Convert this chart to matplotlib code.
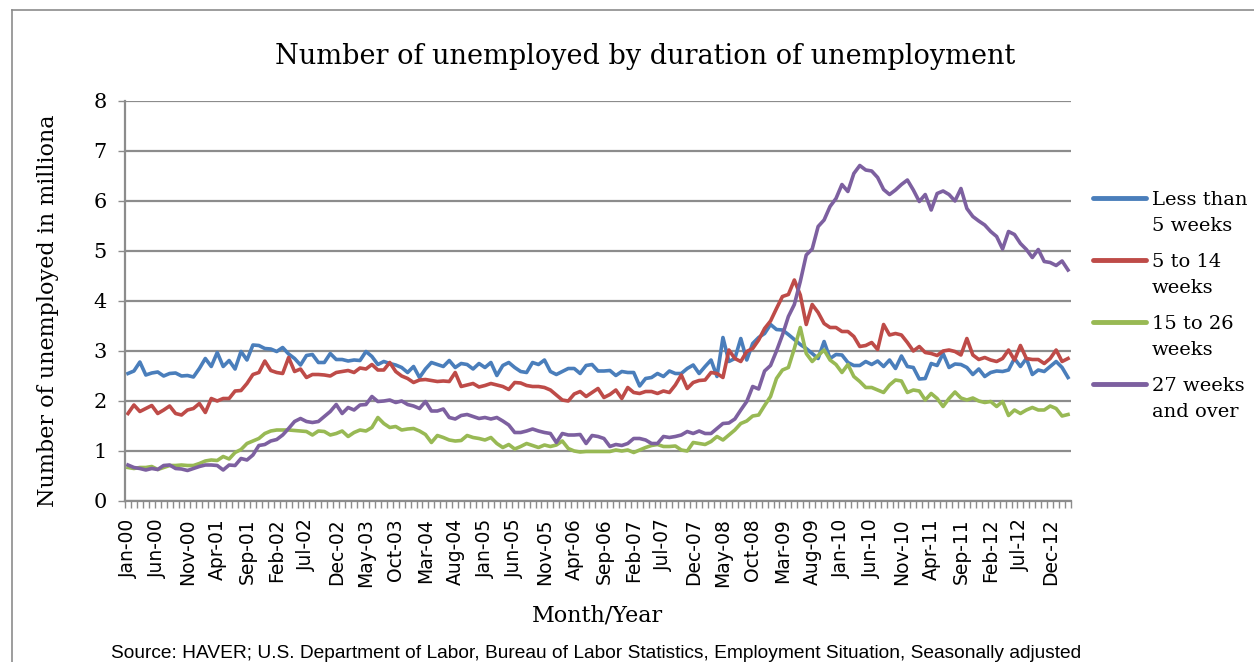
import numpy as np
import pandas as pd
import matplotlib
matplotlib.use("Agg")
import matplotlib.pyplot as plt
from matplotlib.lines import Line2D

# Monthly unemployed by duration, millions, Jan 2000 - Mar 2013
months = pd.date_range("2000-01-01", "2013-03-01", freq="MS")

less_than_5 = [
    2.55, 2.60, 2.78, 2.52, 2.56, 2.58, 2.50, 2.55, 2.56, 2.50, 2.51, 2.48, 2.65, 2.85, 2.69, 2.97, 2.69, 2.81, 2.64, 2.99,
    2.82, 3.12, 3.11, 3.05, 3.04, 2.99, 3.07, 2.94, 2.85, 2.72, 2.91, 2.93, 2.77, 2.77, 2.95, 2.83, 2.83, 2.80, 2.82, 2.81,
    2.99, 2.89, 2.73, 2.79, 2.75, 2.72, 2.67, 2.57, 2.69, 2.47, 2.64, 2.77, 2.73, 2.69, 2.81, 2.67, 2.75, 2.73, 2.64, 2.75,
    2.67, 2.77, 2.51, 2.71, 2.77, 2.67, 2.59, 2.57, 2.77, 2.73, 2.82, 2.59, 2.53, 2.59, 2.65, 2.65, 2.55, 2.71, 2.73, 2.60,
    2.60, 2.61, 2.51, 2.59, 2.57, 2.57, 2.30, 2.45, 2.47, 2.55, 2.49, 2.60, 2.55, 2.55, 2.65, 2.72, 2.55, 2.69, 2.82, 2.49,
    3.27, 2.79, 2.85, 3.25, 2.82, 3.15, 3.27, 3.35, 3.53, 3.43, 3.42, 3.33, 3.23, 3.13, 3.05, 2.95, 2.85, 3.19, 2.85, 2.93,
    2.92, 2.77, 2.71, 2.71, 2.79, 2.73, 2.80, 2.69, 2.82, 2.65, 2.90, 2.69, 2.67, 2.44, 2.45, 2.75, 2.71, 2.95, 2.67, 2.74,
    2.73, 2.67, 2.53, 2.64, 2.49, 2.57, 2.60, 2.59, 2.62, 2.85, 2.69, 2.85, 2.53, 2.62, 2.59, 2.69, 2.79, 2.67, 2.47,
]

weeks_5_14 = [
    1.75, 1.92, 1.79, 1.85, 1.91, 1.75, 1.82, 1.90, 1.75, 1.72, 1.82, 1.85, 1.95, 1.77, 2.05, 2.00, 2.05, 2.05, 2.20, 2.21,
    2.35, 2.53, 2.57, 2.80, 2.61, 2.57, 2.55, 2.87, 2.59, 2.64, 2.47, 2.53, 2.53, 2.52, 2.50, 2.57, 2.59, 2.61, 2.57, 2.66,
    2.64, 2.73, 2.62, 2.62, 2.77, 2.59, 2.50, 2.45, 2.37, 2.42, 2.43, 2.41, 2.39, 2.40, 2.39, 2.57, 2.29, 2.32, 2.35, 2.28,
    2.31, 2.35, 2.32, 2.29, 2.23, 2.37, 2.36, 2.31, 2.29, 2.29, 2.27, 2.22, 2.12, 2.02, 2.00, 2.14, 2.19, 2.09, 2.17, 2.25,
    2.07, 2.13, 2.22, 2.05, 2.27, 2.17, 2.15, 2.19, 2.19, 2.15, 2.20, 2.17, 2.32, 2.52, 2.25, 2.37, 2.41, 2.42, 2.57, 2.55,
    2.47, 3.02, 2.85, 2.79, 2.99, 3.05, 3.22, 3.45, 3.60, 3.85, 4.09, 4.13, 4.42, 4.12, 3.53, 3.93, 3.77, 3.55, 3.47, 3.47,
    3.39, 3.39, 3.29, 3.09, 3.11, 3.17, 3.03, 3.53, 3.32, 3.35, 3.32, 3.17, 3.00, 3.09, 2.97, 2.95, 2.91, 3.00, 3.02, 2.99,
    2.92, 3.25, 2.92, 2.83, 2.87, 2.82, 2.79, 2.85, 3.02, 2.82, 3.11, 2.85, 2.83, 2.83, 2.75, 2.85, 3.02, 2.79, 2.85,
]

weeks_15_26 = [
    0.67, 0.65, 0.67, 0.67, 0.69, 0.63, 0.67, 0.71, 0.71, 0.72, 0.71, 0.71, 0.75, 0.80, 0.82, 0.81, 0.89, 0.84, 0.97, 1.03,
    1.15, 1.20, 1.25, 1.35, 1.40, 1.42, 1.42, 1.42, 1.41, 1.40, 1.39, 1.32, 1.40, 1.39, 1.32, 1.35, 1.40, 1.29, 1.37, 1.42,
    1.40, 1.47, 1.67, 1.55, 1.47, 1.49, 1.42, 1.44, 1.45, 1.40, 1.33, 1.17, 1.31, 1.27, 1.22, 1.20, 1.21, 1.31, 1.27, 1.25,
    1.22, 1.27, 1.15, 1.07, 1.13, 1.04, 1.09, 1.15, 1.11, 1.07, 1.12, 1.09, 1.12, 1.20, 1.05, 1.00, 0.98, 0.99, 0.99, 0.99,
    0.99, 0.99, 1.02, 1.00, 1.02, 0.97, 1.02, 1.07, 1.11, 1.13, 1.09, 1.09, 1.10, 1.02, 1.00, 1.17, 1.15, 1.13, 1.19, 1.29,
    1.22, 1.32, 1.42, 1.55, 1.60, 1.70, 1.72, 1.91, 2.09, 2.45, 2.62, 2.67, 3.05, 3.47, 2.95, 2.79, 2.91, 3.02, 2.82, 2.73,
    2.57, 2.73, 2.49, 2.39, 2.27, 2.27, 2.22, 2.17, 2.32, 2.42, 2.40, 2.17, 2.22, 2.20, 2.02, 2.15, 2.05, 1.89, 2.05, 2.18,
    2.06, 2.02, 2.06, 2.00, 1.97, 1.99, 1.89, 1.99, 1.71, 1.82, 1.75, 1.82, 1.87, 1.82, 1.82, 1.90, 1.85, 1.70, 1.73,
]

weeks_27_over = [
    0.72, 0.67, 0.65, 0.62, 0.65, 0.63, 0.71, 0.72, 0.65, 0.64, 0.61, 0.65, 0.69, 0.72, 0.72, 0.71, 0.62, 0.72, 0.71, 0.85,
    0.82, 0.92, 1.11, 1.13, 1.20, 1.23, 1.32, 1.45, 1.59, 1.65, 1.59, 1.57, 1.59, 1.69, 1.79, 1.93, 1.75, 1.87, 1.82, 1.92,
    1.93, 2.09, 1.99, 2.00, 2.02, 1.97, 2.00, 1.93, 1.90, 1.85, 1.99, 1.80, 1.80, 1.84, 1.67, 1.64, 1.71, 1.73, 1.69, 1.65,
    1.67, 1.64, 1.67, 1.60, 1.52, 1.37, 1.37, 1.40, 1.44, 1.40, 1.37, 1.35, 1.17, 1.35, 1.32, 1.32, 1.33, 1.15, 1.31, 1.29,
    1.25, 1.09, 1.13, 1.11, 1.15, 1.25, 1.25, 1.22, 1.15, 1.15, 1.29, 1.27, 1.29, 1.32, 1.39, 1.35, 1.40, 1.35, 1.35, 1.45,
    1.55, 1.56, 1.64, 1.82, 1.99, 2.29, 2.24, 2.60, 2.71, 3.00, 3.32, 3.69, 3.93, 4.39, 4.92, 5.04, 5.49, 5.62, 5.89, 6.05,
    6.33, 6.19, 6.55, 6.71, 6.62, 6.60, 6.47, 6.23, 6.13, 6.22, 6.33, 6.42, 6.22, 5.99, 6.13, 5.82, 6.15, 6.20, 6.13, 6.00,
    6.25, 5.85, 5.69, 5.60, 5.52, 5.39, 5.29, 5.04, 5.39, 5.33, 5.15, 5.03, 4.87, 5.03, 4.79, 4.77, 4.71, 4.80, 4.62,
]

series = [
    ("Less than\n5 weeks", less_than_5, "#4A7EBB"),
    ("5 to 14\nweeks", weeks_5_14, "#BE4B48"),
    ("15 to 26\nweeks", weeks_15_26, "#98B954"),
    ("27 weeks\nand over", weeks_27_over, "#7D60A0"),
]

serif = "DejaVu Serif"
grid_gray = "#8C8C8C"

fig = plt.figure(figsize=(12.54, 6.62), dpi=100)
W, H = 1254, 662

def fx(px):
    return px / W

def fy(py):
    return 1 - py / H

# outer chart border (left and top edges)
fig.add_artist(Line2D([fx(12), fx(12)], [0, fy(10)], transform=fig.transFigure,
                      color=grid_gray, lw=1.2))
fig.add_artist(Line2D([fx(12), 1], [fy(10), fy(10)], transform=fig.transFigure,
                      color=grid_gray, lw=1.2))

ax = fig.add_axes([fx(125), fy(501), (1071 - 125) / W, (501 - 101) / H])

x = np.arange(len(months))
for label, values, color in series:
    ax.plot(x, values, color=color, lw=2.6, label=label, solid_joinstyle="round")

ax.set_xlim(-0.5, len(months) - 0.5)
ax.set_ylim(0, 8)
ax.set_yticks(range(0, 9))
ax.yaxis.grid(True, color=grid_gray, lw=1.6)
ax.set_axisbelow(True)

# labels every 5 months, tick marks at every month boundary
ax.set_xticks(x[::5])
ax.set_xticklabels([d.strftime("%b-%y") for d in months[::5]], rotation=90,
                   fontsize=13.5, family="DejaVu Sans")
ax.set_xticks(np.arange(-0.5, len(months) + 0.5, 1), minor=True)
ax.tick_params(axis="x", which="major", length=0, pad=12.5)
ax.tick_params(axis="x", which="minor", length=5, width=1, color=grid_gray, direction="out")
ax.tick_params(axis="y", length=5, width=1, color=grid_gray, labelsize=15, pad=8)
for t in ax.get_yticklabels():
    t.set_family(serif)

for side in ["top", "right"]:
    ax.spines[side].set_visible(False)
for side in ["left", "bottom"]:
    ax.spines[side].set_color(grid_gray)
    ax.spines[side].set_linewidth(1.6)

fig.text(fx(645), fy(57), "Number of unemployed by duration of unemployment",
         ha="center", va="center", fontsize=19.5, family=serif)
fig.text(fx(48), fy(311), "Number of unemployed in milliona", rotation=90,
         ha="center", va="center", fontsize=16, family=serif)
fig.text(fx(597), fy(615), "Month/Year", ha="center", va="center",
         fontsize=16, family=serif)
fig.text(fx(596), fy(658),
         "Source: HAVER; U.S. Department of Labor, Bureau of Labor Statistics, "
         "Employment Situation, Seasonally adjusted",
         ha="center", va="baseline", fontsize=13.8, family="Liberation Sans")

# legend on the right: the swatch sits level with the first line of each label,
# the label is anchored on the baseline of its second line
for k, (label, values, color) in enumerate(series):
    y0 = 198 + 62 * k
    fig.add_artist(Line2D([fx(1093), fx(1146)], [fy(y0), fy(y0)],
                          transform=fig.transFigure, color=color, lw=3.5,
                          solid_capstyle="round"))
    fig.text(fx(1152), fy(y0 + 33), label, ha="left", va="baseline", fontsize=14,
             family=serif, linespacing=1.55)

fig.savefig("out.png", dpi=100)
